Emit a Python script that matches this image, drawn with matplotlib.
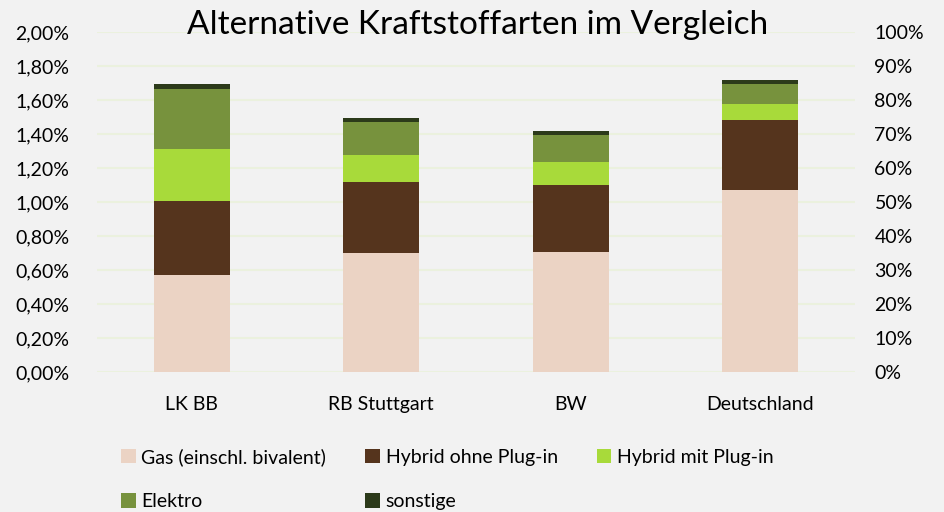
import matplotlib
matplotlib.use("Agg")
import matplotlib.pyplot as plt
import numpy as np
from matplotlib.ticker import FuncFormatter, MultipleLocator

categories = ["LK BB", "RB Stuttgart", "BW", "Deutschland"]
gas = [0.574, 0.702, 0.706, 1.071]
hybrid_ohne = [0.435, 0.416, 0.396, 0.411]
hybrid_mit = [0.306, 0.160, 0.135, 0.096]
elektro = [0.351, 0.196, 0.161, 0.118]
sonstige = [0.032, 0.024, 0.020, 0.022]

series = [
    ("Gas (einschl. bivalent)", gas, "#EBD3C4"),
    ("Hybrid ohne Plug-in", hybrid_ohne, "#55341D"),
    ("Hybrid mit Plug-in", hybrid_mit, "#A8DA3A"),
    ("Elektro", elektro, "#77923D"),
    ("sonstige", sonstige, "#2C3A1A"),
]

plt.rcParams['font.family'] = ['Lato', 'DejaVu Sans']
bg = "#F2F2F2"
fs = 14
fig = plt.figure(figsize=(9.44, 5.12), dpi=100, facecolor=bg)
ax = fig.add_axes([0.1028, 0.2729, 0.8029, 0.664], facecolor=bg)

x = np.arange(len(categories))
bottom = np.zeros(len(categories))
handles = {}
for name, vals, col in series:
    b = ax.bar(x, vals, width=0.4, bottom=bottom, color=col, label=name, zorder=3)
    handles[name] = b
    bottom += np.array(vals)

ax.set_xlim(-0.5, 3.5)
ax.set_ylim(0, 2.0)
ax.yaxis.set_major_locator(MultipleLocator(0.2))
ax.yaxis.set_major_formatter(FuncFormatter(lambda v, p: f"{v:.2f}%".replace(".", ",")))
ax.grid(axis='y', color="#EBF1DE", linewidth=1.5, zorder=0)
ax.set_xticks(x)
ax.set_xticklabels(categories)
for s in ax.spines.values():
    s.set_visible(False)
ax.tick_params(axis='both', length=0, labelsize=fs, colors="#000000")
ax.tick_params(axis='x', pad=17)
ax.tick_params(axis='y', pad=20)

ax2 = ax.twinx()
ax2.set_ylim(0, 100)
ax2.yaxis.set_major_locator(MultipleLocator(10))
ax2.yaxis.set_major_formatter(FuncFormatter(lambda v, p: f"{v:.0f}%"))
for s in ax2.spines.values():
    s.set_visible(False)
ax2.tick_params(axis='y', length=0, labelsize=fs, pad=14)

fig.text(0.506, 0.952, "Alternative Kraftstoffarten im Vergleich", ha='center', va='center', fontsize=24)

order = ["Gas (einschl. bivalent)", "Elektro", "Hybrid ohne Plug-in", "sonstige", "Hybrid mit Plug-in"]
fig.legend([handles[n] for n in order], order, ncol=3, loc='upper left',
           bbox_to_anchor=(0.12, 0.14), frameon=False, fontsize=fs,
           handlelength=0.75, handleheight=0.75, handletextpad=0.3,
           columnspacing=2.0, labelspacing=1.4, borderaxespad=0)

fig.savefig("out.png", dpi=100, facecolor=bg)
